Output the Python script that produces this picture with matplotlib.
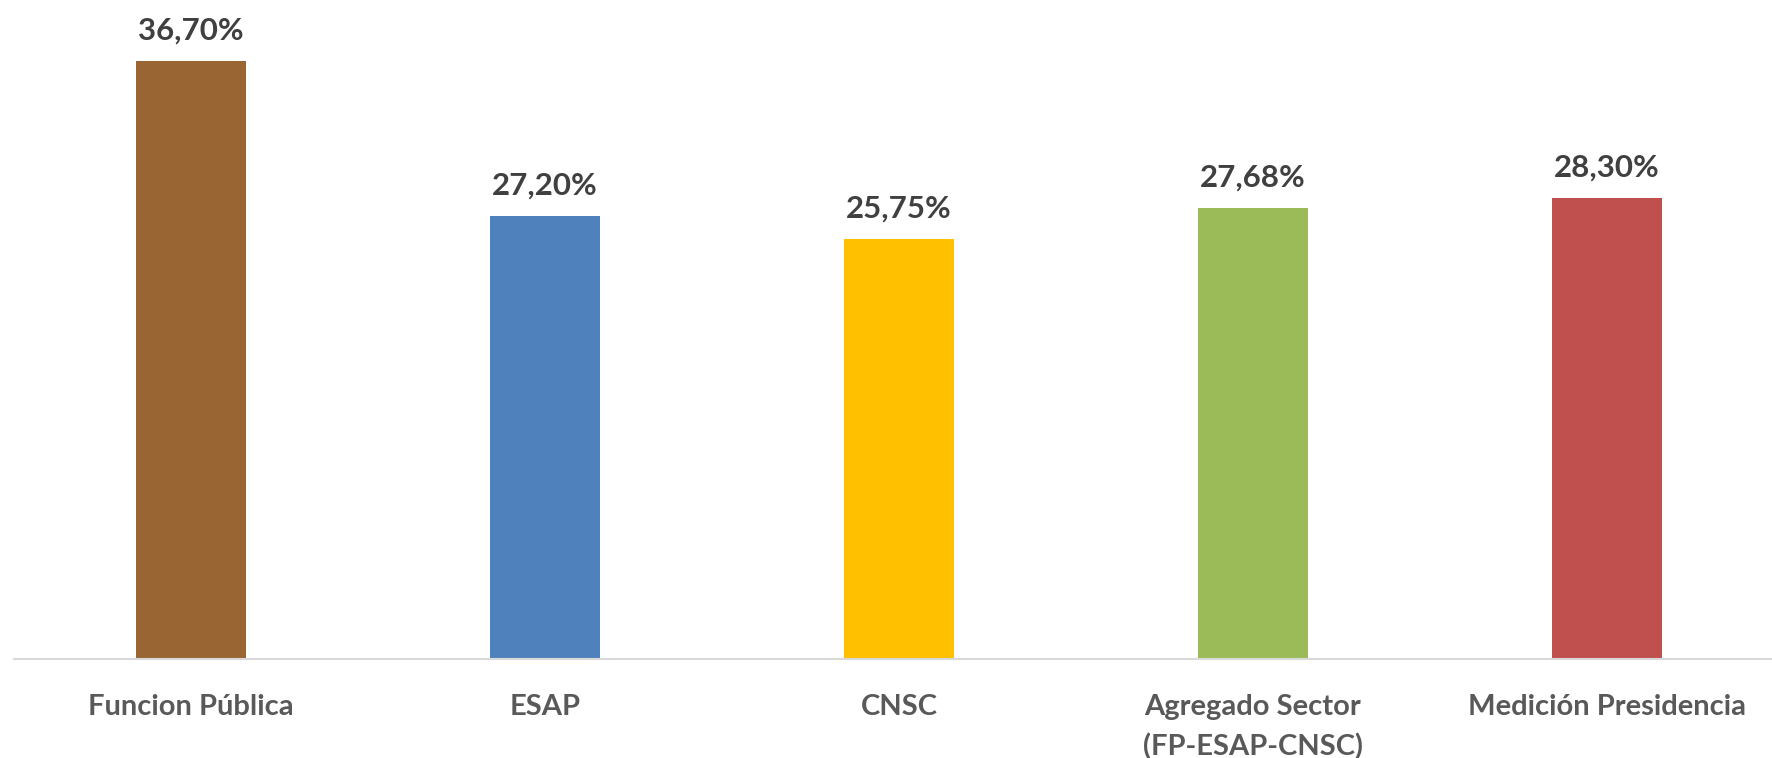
import matplotlib.pyplot as plt

# data
categories = ["Funcion Pública", "ESAP", "CNSC", "Agregado Sector\n(FP-ESAP-CNSC)", "Medición Presidencia"]
values = [36.70, 27.20, 25.75, 27.68, 28.30]
labels = ["36,70%", "27,20%", "25,75%", "27,68%", "28,30%"]
colors = ["#996633", "#4F81BD", "#FFC000", "#9BBB59", "#C0504D"]

plt.rcParams['font.family'] = ['Lato', 'DejaVu Sans']

fig = plt.figure(figsize=(17.72, 7.58), dpi=100)
ax = fig.add_axes([14 / 1772, 99 / 758, 1770 / 1772, 659 / 758])

x = range(len(categories))
bars = ax.bar(x, values, width=0.31, color=colors)

for b, lab in zip(bars, labels):
    ax.annotate(lab, (b.get_x() + b.get_width() / 2, b.get_height()),
                xytext=(0, 12), textcoords='offset points',
                ha='center', va='bottom', fontsize=22.5, fontweight='bold',
                color='#404040')

ax.set_xlim(-0.5, 4.5)
ax.set_ylim(0, 40.45)
ax.set_xticks(list(x))
ax.set_xticklabels(categories, fontsize=21, fontweight='bold', color='#595959')
for t in ax.get_xticklabels():
    t.set_linespacing(1.6)
ax.tick_params(axis='x', length=0, pad=25)
ax.set_yticks([])

for s in ['top', 'right', 'left']:
    ax.spines[s].set_visible(False)
ax.spines['bottom'].set_color('#D9D9D9')
ax.spines['bottom'].set_linewidth(1.5)

fig.savefig('out.png', dpi=100)
